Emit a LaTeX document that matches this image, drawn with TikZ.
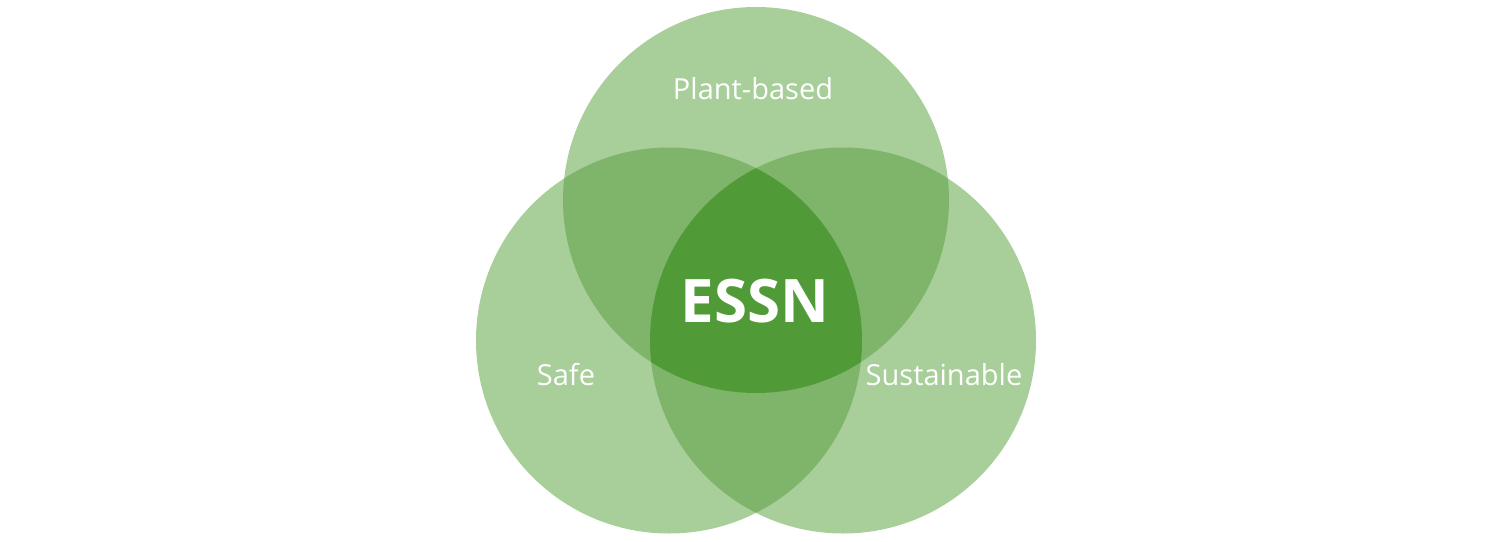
\documentclass[tikz,border=0pt]{standalone}
\usepackage{fontspec}
\setmainfont{Open Sans}
\definecolor{venlight}{RGB}{168,206,154}
\definecolor{venmid}{RGB}{127,180,107}
\definecolor{vendark}{RGB}{80,155,55}

\begin{document}
\begin{tikzpicture}[x=1pt,y=-1pt]
\tikzset{
ring/.style={radius=193pt},
mylabel/.style={text=white, inner sep=0pt, anchor=base, font=\fontsize{29}{31}\selectfont},
biglabel/.style={text=white, inner sep=0pt, anchor=base, font=\bfseries\fontsize{60}{62}\selectfont},
}
\useasboundingbox (0,0) rectangle (1505,541);

\coordinate (plant) at (756,200);
\coordinate (safe) at (669,340.5);
\coordinate (sust) at (843,340.5);

% single circles
\fill[venlight] (plant) circle[ring];
\fill[venlight] (safe) circle[ring];
\fill[venlight] (sust) circle[ring];

% pairwise overlaps
\begin{scope}
\clip (plant) circle[ring];
\fill[venmid] (safe) circle[ring];
\fill[venmid] (sust) circle[ring];
\end{scope}
\begin{scope}
\clip (safe) circle[ring];
\fill[venmid] (sust) circle[ring];
\end{scope}

% centre
\begin{scope}
\clip (plant) circle[ring];
\clip (safe) circle[ring];
\fill[vendark] (sust) circle[ring];
\end{scope}

\node[mylabel] (plantlabel) at (753,99) {Plant-based};
\node[mylabel] (safelabel) at (566,385) {Safe};
\node[mylabel] (sustlabel) at (944,385) {Sustainable};
\node[biglabel] (essn) at (755,322) {ESSN};
\end{tikzpicture}
\end{document}
